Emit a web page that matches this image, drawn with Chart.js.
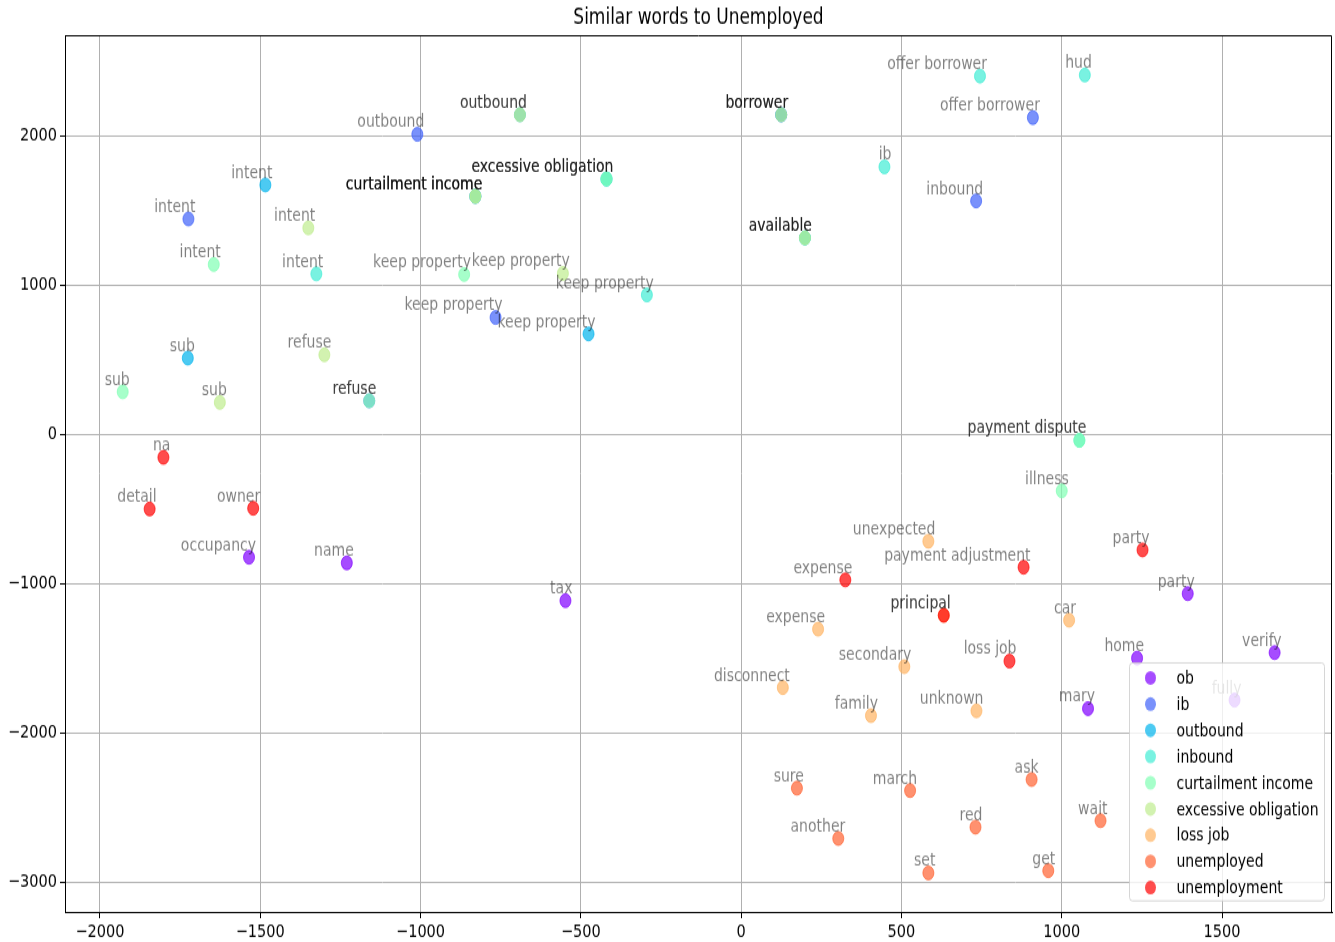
<!DOCTYPE html>
<html>
<head>
<meta charset="utf-8">
<title>Similar words to Unemployed</title>
<script src="https://cdn.jsdelivr.net/npm/chart.js@4.4.0/dist/chart.umd.min.js"></script>
<style>
  body { margin: 0; background: #fff; }
</style>
</head>
<body>
<!-- chart is drawn at 16:9 and stretched to the page like the original image -->
<canvas id="myChart" width="1335" height="751" style="display:block;width:1335px;height:942px"></canvas>
<script>
// cluster names (legend order)
const seriesNames = ["ob", "ib", "outbound", "inbound", "curtailment income",
  "excessive obligation", "loss job", "unemployed", "unemployment"];

// words + t-sne coords for every cluster
const obWords = ["occupancy", "name", "tax", "party", "home", "mary", "verify", "fully"];
const obX = [-1535, -1230, -548, 1393, 1235, 1082, 1664, 1539];
const obY = [-825, -863, -1116, -1069, -1501, -1839, -1464, -1782];

const ibWords = ["outbound", "intent", "keep property", "offer borrower", "inbound", "borrower", "curtailment income", "refuse"];
const ibX = [-1010, -1724, -766, 910, 733, 125, -829, -1160];
const ibY = [2008, 1441, 781, 2120, 1562, 2139, 1593, 223];

const outboundWords = ["intent", "sub", "keep property", "outbound", "borrower", "curtailment income", "available", "excessive obligation"];
const outboundX = [-1484, -1726, -476, -690, 125, -829, 199, -420];
const outboundY = [1669, 509, 671, 2139, 2139, 1593, 1314, 1709];

const inboundWords = ["offer borrower", "hud", "ib", "intent", "keep property", "available", "excessive obligation", "payment dispute"];
const inboundX = [745, 1072, 447, -1325, -294, 199, -420, 1055];
const inboundY = [2398, 2405, 1790, 1073, 932, 1314, 1709, -42];

const curtailWords = ["intent", "keep property", "sub", "illness", "excessive obligation", "refuse", "payment dispute", "curtailment income"];
const curtailX = [-1645, -864, -1929, 1000, -420, -1160, 1055, -829];
const curtailY = [1136, 1069, 283, -380, 1709, 223, -42, 1593];

const excessWords = ["intent", "keep property", "sub", "refuse", "outbound", "borrower", "curtailment income", "available"];
const excessX = [-1350, -556, -1626, -1300, -690, 125, -829, 199];
const excessY = [1381, 1076, 212, 531, 2139, 2139, 1593, 1314];

const lossJobWords = ["unexpected", "car", "secondary", "disconnect", "family", "unknown", "expense", "principal"];
const lossJobX = [584, 1023, 509, 130, 405, 734, 240, 632];
const lossJobY = [-718, -1247, -1558, -1698, -1886, -1854, -1307, -1214];

const unemployedWords = ["sure", "march", "ask", "another", "red", "wait", "set", "get"];
const unemployedX = [174, 527, 906, 303, 731, 1121, 584, 958];
const unemployedY = [-2372, -2388, -2314, -2709, -2633, -2590, -2940, -2925];

const unemploymentWords = ["na", "detail", "owner", "expense", "payment adjustment", "party", "principal", "loss job"];
const unemploymentX = [-1802, -1845, -1522, 325, 881, 1252, 632, 837];
const unemploymentY = [-156, -502, -497, -977, -892, -776, -1214, -1521];

// axis ticks
const xTicks = [-2000, -1500, -1000, -500, 0, 500, 1000, 1500];
const yTicks = [-3000, -2000, -1000, 0, 1000, 2000];

// matplotlib "rainbow" for 9 clusters
const rainbow = [
  [128, 0, 255], [64, 98, 250], [0, 180, 236], [64, 236, 212], [128, 255, 180],
  [191, 236, 142], [255, 180, 98], [255, 98, 50], [255, 0, 0],
];

const wordsList = [obWords, ibWords, outboundWords, inboundWords, curtailWords, excessWords, lossJobWords, unemployedWords, unemploymentWords];
const xList = [obX, ibX, outboundX, inboundX, curtailX, excessX, lossJobX, unemployedX, unemploymentX];
const yList = [obY, ibY, outboundY, inboundY, curtailY, excessY, lossJobY, unemployedY, unemploymentY];

function rgba(c, a) {
  return "rgba(" + c[0] + "," + c[1] + "," + c[2] + "," + a + ")";
}

const datasets = [];
for (let i = 0; i < seriesNames.length; i++) {
  let pts = [];
  for (let j = 0; j < wordsList[i].length; j++) {
    pts.push({ x: xList[i][j], y: yList[i][j], word: wordsList[i][j] });
  }
  datasets.push({
    label: seriesNames[i],
    data: pts,
    backgroundColor: rgba(rainbow[i], 0.7),
    borderColor: rgba(rainbow[i], 0.7),
    borderWidth: 1,
    pointRadius: 5.5,
    // later clusters on top, like plt.scatter calls
    order: seriesNames.length - i,
  });
}

const FONT = "DejaVu Sans";
Chart.defaults.font.family = FONT;

function tickText(v) {
  return v < 0 ? "\u2212" + Math.abs(v) : "" + v;
}

// word labels, top/right spines and the lower-right legend
const wordPlugin = {
  id: "wordPlugin",
  afterDatasetsDraw(chart) {
    const ctx = chart.ctx;
    ctx.save();
    ctx.font = "14px '" + FONT + "'";
    ctx.fillStyle = "rgba(0,0,0,0.5)";
    ctx.textAlign = "right";
    ctx.textBaseline = "alphabetic";
    chart.data.datasets.forEach((ds, i) => {
      const meta = chart.getDatasetMeta(i);
      meta.data.forEach((pt, j) => {
        ctx.fillText(ds.data[j].word, pt.x + 7, pt.y - 5.6);
      });
    });

    // top + right spine
    const a = chart.chartArea;
    ctx.strokeStyle = "#000";
    ctx.lineWidth = 1;
    ctx.beginPath();
    ctx.moveTo(Math.round(a.left) + 0.5, Math.round(a.top) + 0.5);
    ctx.lineTo(Math.round(a.right) - 0.5, Math.round(a.top) + 0.5);
    ctx.lineTo(Math.round(a.right) - 0.5, Math.round(a.bottom));
    ctx.stroke();
    ctx.restore();
  },
  afterDraw(chart) {
    const ctx = chart.ctx;
    const a = chart.chartArea;
    const sy = 751 / 942;
    const w = 195;
    const h = 238 * sy;
    const x0 = a.right - 7.5 - w;
    const y0 = a.bottom - 11 * sy - h;
    ctx.save();
    ctx.beginPath();
    ctx.roundRect(x0, y0, w, h, 3);
    ctx.fillStyle = "rgba(255,255,255,0.8)";
    ctx.fill();
    ctx.strokeStyle = "rgba(204,204,204,0.8)";
    ctx.lineWidth = 1;
    ctx.stroke();

    ctx.font = "14px '" + FONT + "'";
    ctx.textAlign = "left";
    ctx.textBaseline = "middle";
    chart.data.datasets.forEach((ds, i) => {
      const cy = y0 + (15 + 26.2 * i) * sy;
      ctx.beginPath();
      ctx.arc(x0 + 21, cy, 5.5, 0, Math.PI * 2);
      ctx.fillStyle = ds.backgroundColor;
      ctx.fill();
      ctx.fillStyle = "#000";
      ctx.fillText(ds.label, x0 + 47, cy + 1);
    });
    ctx.restore();
  },
};

const config = {
  type: "scatter",
  data: { datasets: datasets },
  options: {
    responsive: false,
    animation: false,
    devicePixelRatio: 1,
    events: [],
    layout: { autoPadding: false, padding: { left: 0, right: 3, top: 0, bottom: 0 } },
    plugins: {
      legend: { display: false },
      tooltip: { enabled: false },
      title: {
        display: true,
        fullSize: false,
        text: "Similar words to Unemployed",
        color: "#000",
        font: { family: FONT, size: 17, weight: "normal" },
        padding: { top: 4, bottom: 4 },
      },
    },
    scales: {
      x: {
        type: "linear",
        min: -2109,
        max: 1843,
        afterBuildTicks: (s) => { s.ticks = xTicks.map((v) => ({ value: v })); },
        afterFit: (s) => { s.height = 24; },
        grid: { color: "#b0b0b0", lineWidth: 1, tickColor: "#000", tickLength: 5 },
        border: { color: "#000", width: 1 },
        ticks: { color: "#000", font: { size: 14.5 }, padding: 3, maxRotation: 0, autoSkip: false, callback: tickText },
      },
      y: {
        type: "linear",
        min: -3201,
        max: 2669,
        afterBuildTicks: (s) => { s.ticks = yTicks.map((v) => ({ value: v })); },
        afterFit: (s) => { s.width = 65; },
        grid: { color: "#b0b0b0", lineWidth: 1, tickColor: "#000", tickLength: 5 },
        border: { color: "#000", width: 1 },
        ticks: { color: "#000", font: { size: 14.5 }, padding: 3, autoSkip: false, callback: tickText },
      },
    },
  },
  plugins: [wordPlugin],
};

const myChart = new Chart(document.getElementById("myChart"), config);
</script>
</body>
</html>
